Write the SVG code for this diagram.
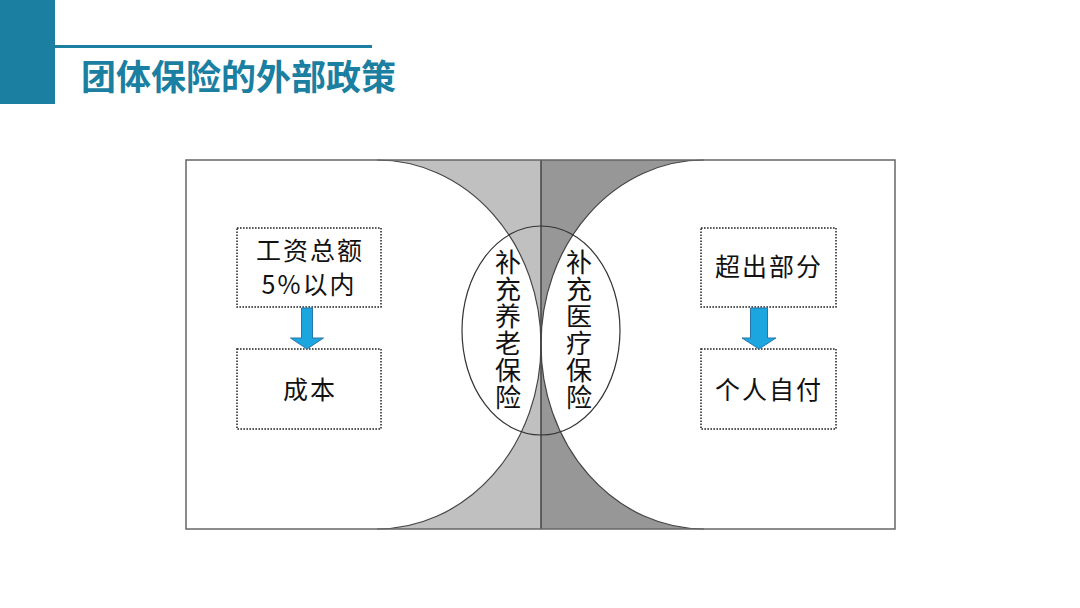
<svg xmlns="http://www.w3.org/2000/svg" width="1080" height="608" viewBox="0 0 1080 608">
<style>
.t{font-family:"Noto Sans CJK SC","Noto Sans",sans-serif;font-size:25px;fill:#111;text-anchor:middle;letter-spacing:2px}
.v{font-family:"Noto Sans CJK SC","Noto Sans",sans-serif;font-size:26px;fill:#111;writing-mode:vertical-rl;letter-spacing:1px}
.box{fill:none;stroke:#222;stroke-width:1.5;stroke-dasharray:1.6 1.4}
.arr{fill:#1ba6df;stroke:#2a75a8;stroke-width:1}
.edge{fill:none;stroke:#444;stroke-width:1.2}
</style>
<rect width="1080" height="608" fill="#fff"/>
<g id="header">
<rect x="0" y="0" width="55" height="104" fill="#1b7fa1"/>
<rect x="55" y="45" width="317" height="3" fill="#1b7fa1"/>
<text x="81" y="90" font-family="'Noto Sans CJK SC',sans-serif" font-size="35" font-weight="700" fill="#1b7fa1">团体保险的外部政策</text>
</g>
<g id="background">
<rect x="377" y="160" width="164" height="369" fill="#c0c0c0"/>
<rect x="541" y="160" width="163" height="369" fill="#979797"/>
<path d="M186,160 H377 A164,184.5 0 0 1 541,344.5 A164,184.5 0 0 1 377,529 H186 Z" fill="#fff"/>
<path d="M895,160 H704 A163,184.5 0 0 0 541,344.5 A163,184.5 0 0 0 704,529 H895 Z" fill="#fff"/>
<path class="edge" d="M377,160 A164,184.5 0 0 1 541,344.5 A164,184.5 0 0 1 377,529"/>
<path class="edge" d="M704,160 A163,184.5 0 0 0 541,344.5 A163,184.5 0 0 0 704,529"/>
<line x1="541" y1="160" x2="541" y2="529" stroke="#444" stroke-width="1.5"/>
<rect x="186" y="160" width="709" height="369" fill="none" stroke="#666" stroke-width="1.5"/>
</g>
<g id="ellipse">
<ellipse cx="541" cy="330.5" rx="79" ry="104.5" fill="none" stroke="#333" stroke-width="1.2"/>
</g>
<g id="pension">
<text class="v" x="508" y="249">补充养老保险</text>
</g>
<g id="medical">
<text class="v" x="579" y="249">补充医疗保险</text>
</g>
<g id="wage">
<rect class="box" x="237" y="228" width="144" height="79"/>
<text class="t" x="310" y="260">工资总额</text>
<text class="t" x="309" y="294">5%以内</text>
</g>
<g id="cost">
<rect class="box" x="237" y="349" width="144" height="80"/>
<text class="t" x="310" y="399">成本</text>
</g>
<g id="excess">
<rect class="box" x="701" y="228" width="135" height="79"/>
<text class="t" x="769" y="276">超出部分</text>
</g>
<g id="self">
<rect class="box" x="701" y="349" width="135" height="80"/>
<text class="t" x="769" y="399">个人自付</text>
</g>
<g id="connectors">
<path class="arr" d="M301.5,308 H312.5 V338 H323.5 L307,349 L290.5,338 H301.5 Z"/>
<path class="arr" d="M750.5,308 H767.5 V338 H776 L759,349 L742,338 H750.5 Z"/>
</g>
</svg>
